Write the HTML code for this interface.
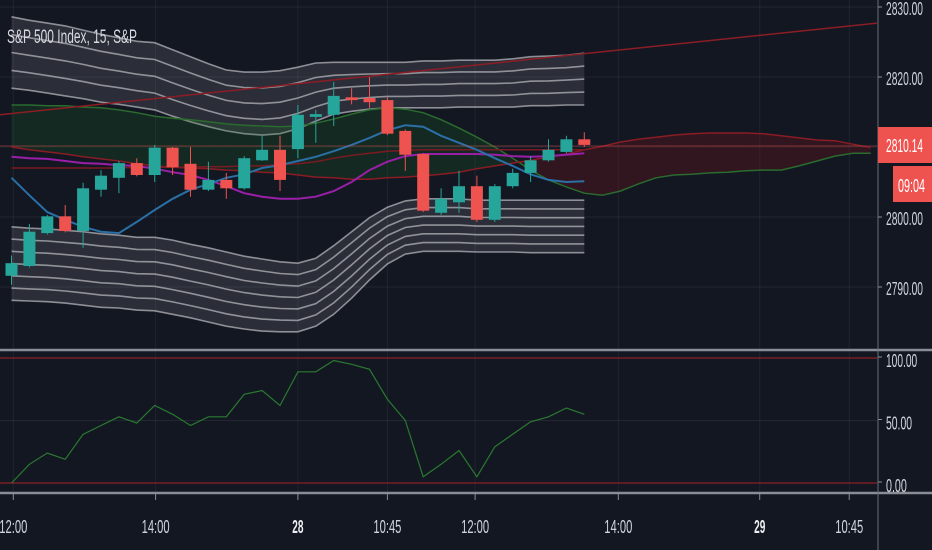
<!DOCTYPE html>
<html><head><meta charset="utf-8">
<style>
html,body{margin:0;padding:0;background:#131722;}
svg{display:block;font-family:"Liberation Sans",sans-serif;}
</style></head>
<body>
<svg id="chart" width="932" height="550" viewBox="0 0 932 550" xmlns="http://www.w3.org/2000/svg">
<rect x="0" y="0" width="932" height="550" fill="#131722"/>
<g id="grid"></g>
<defs><clipPath id="plotclip"><rect x="0" y="0" width="877" height="349"/></clipPath></defs>
<g id="price" clip-path="url(#plotclip)"></g>
<g id="osc"></g>
<g id="axes"></g>
<text x="7" y="43" fill="#d8dae0" font-size="19" textLength="130" lengthAdjust="spacingAndGlyphs">S&amp;P 500 Index, 15, S&amp;P</text>
</svg>
<script>
const opens=[2791.6,2793.0,2797.7,2800.1,2798.0,2803.9,2805.6,2807.7,2806.0,2809.9,2807.6,2803.9,2805.3,2804.1,2808.1,2809.6,2809.7,2814.3,2814.6,2817.1,2817.0,2816.7,2812.3,2809.0,2800.6,2802.1,2804.4,2799.6,2804.4,2806.3,2808.1,2809.3,2811.1];
const highs=[2794.5,2799.0,2800.3,2801.7,2804.9,2806.7,2808.0,2808.4,2810.3,2810.0,2810.0,2807.9,2806.3,2808.7,2811.7,2811.6,2816.0,2815.3,2819.3,2818.4,2820.0,2817.1,2812.5,2809.1,2804.1,2806.6,2805.9,2804.7,2806.9,2808.7,2811.1,2811.6,2812.1];
const lows=[2790.3,2792.8,2797.5,2797.8,2795.6,2802.9,2803.4,2805.8,2805.0,2806.0,2802.9,2803.7,2802.6,2803.9,2808.0,2803.7,2808.4,2810.6,2813.0,2816.1,2815.6,2811.7,2806.6,2800.7,2800.3,2800.6,2799.3,2799.3,2804.1,2805.0,2807.9,2809.1,2810.0];
const closes=[2793.4,2797.9,2800.1,2798.0,2804.1,2805.9,2807.7,2806.0,2809.9,2807.1,2803.9,2805.3,2804.1,2808.4,2809.6,2805.3,2814.6,2814.7,2817.3,2816.7,2816.4,2811.9,2808.9,2800.9,2802.6,2804.4,2799.6,2804.4,2806.3,2808.1,2809.6,2811.1,2810.3];
const blueMA=[2805.6,2803.1,2800.7,2799.6,2798.6,2797.9,2797.7,2799.3,2801.0,2802.6,2803.9,2804.7,2805.6,2806.1,2807.0,2807.4,2808.0,2808.6,2809.4,2810.3,2811.3,2812.4,2813.1,2812.9,2811.6,2810.6,2809.6,2808.4,2807.3,2806.1,2805.3,2805.0,2805.1];
const purpleMA=[2808.6,2808.4,2808.3,2808.0,2807.7,2807.6,2807.4,2807.3,2806.9,2806.4,2806.0,2805.3,2804.4,2803.4,2802.9,2802.6,2802.6,2802.9,2803.7,2805.0,2806.7,2807.9,2808.7,2809.0,2809.0,2809.0,2809.0,2808.9,2808.7,2808.6,2808.7,2808.9,2809.1];
const redMA=[2807.0,2807.0,2807.0,2807.0,2807.0,2807.0,2807.0,2807.1,2807.1,2807.1,2807.1,2807.2,2807.2,2807.3,2807.3,2807.5,2807.6,2807.9,2808.4,2808.8,2809.1,2809.4,2809.5,2809.6,2809.6,2809.6,2809.6,2809.6,2809.6,2809.6,2809.6,2809.6,2809.6];
const cloudA=[2816.0,2816.0,2815.9,2815.9,2815.7,2815.6,2815.3,2814.9,2814.4,2814.1,2813.9,2813.6,2813.3,2813.1,2813.0,2812.9,2813.0,2813.4,2814.0,2814.7,2815.3,2815.6,2815.4,2814.9,2813.9,2812.7,2811.4,2810.0,2808.4,2806.7,2805.3,2804.3,2803.4,2803.1,2803.7,2804.7,2805.6,2806.0,2806.1,2806.3,2806.4,2806.6,2806.7,2806.7,2807.3,2808.0,2808.7,2809.1,2809.1];
const cloudB=[2810.0,2809.6,2809.3,2809.0,2808.6,2808.3,2808.0,2807.6,2807.3,2807.1,2807.0,2806.9,2806.7,2806.6,2806.4,2806.3,2806.0,2805.7,2805.6,2805.4,2805.4,2805.6,2805.7,2805.9,2806.1,2806.4,2806.9,2807.3,2807.7,2808.1,2808.6,2809.0,2809.6,2810.1,2810.7,2811.1,2811.4,2811.7,2811.9,2812.0,2812.0,2812.0,2811.9,2811.6,2811.3,2811.0,2810.9,2810.4,2809.9];
const upperTop=[2828.6,2828.1,2827.7,2827.3,2826.7,2826.1,2825.6,2825.1,2824.9,2823.9,2822.9,2821.9,2821.0,2820.7,2820.7,2820.9,2821.4,2822.0,2822.1,2822.1,2822.1,2822.1,2822.1,2822.3,2822.3,2822.4,2822.4,2822.4,2822.6,2822.9,2823.0,2823.1,2823.4];
const upperBottom=[2818.4,2818.1,2817.7,2817.3,2816.9,2816.4,2816.1,2815.7,2815.3,2814.4,2813.6,2812.9,2812.3,2811.9,2811.7,2811.9,2812.6,2813.7,2814.7,2815.1,2815.4,2815.6,2815.6,2815.6,2815.6,2815.7,2815.7,2815.7,2815.7,2815.9,2815.9,2816.0,2816.0];
const lowerTop=[2798.6,2798.4,2798.3,2798.1,2797.9,2797.6,2797.4,2797.1,2797.1,2796.7,2796.1,2795.6,2795.0,2794.4,2794.0,2793.6,2793.4,2794.1,2795.9,2797.9,2799.9,2801.4,2802.3,2802.6,2802.6,2802.6,2802.4,2802.4,2802.4,2802.4,2802.4,2802.4,2802.4];
const lowerBottom=[2788.1,2788.0,2787.9,2787.7,2787.4,2787.1,2787.0,2786.7,2786.6,2786.1,2785.6,2785.0,2784.4,2784.0,2783.7,2783.6,2783.6,2784.4,2786.1,2788.4,2791.0,2793.3,2794.7,2795.1,2795.1,2795.1,2795.0,2795.0,2795.0,2794.9,2794.9,2794.9,2794.9];
const trendStart=2814.6, trendEnd=2827.7;
const lastPrice=2810.14;
const oscValues=[0,15,24,19,39,46,53,48,62,55,46,53,53,71,74,62,89,89,98,95,91,67,50,5,15,26,5,29,39,49,53,60,55];
const priceTicks=[2830,2820,2810,2800,2790];
const oscTicks=[100,50,0];
const timeLabels=["12:00","14:00","28","10:45","12:00","14:00","29","10:45"];
const timePos=[0.1,8.05,16,21,25.9,33.9,41.8,46.8];
const timeBold=[false,false,true,false,false,false,true,false];

const NS="http://www.w3.org/2000/svg";
function mk(tag,attrs,parent){const e=document.createElementNS(NS,tag);for(const k in attrs)e.setAttribute(k,attrs[k]);parent.appendChild(e);return e;}
const xI=i=>11.5+17.9*i;
const yP=p=>7+(2830-p)*7;
const yS=v=>483-v*1.25;
const grid=document.getElementById('grid'),price=document.getElementById('price'),osc=document.getElementById('osc'),axes=document.getElementById('axes');

priceTicks.forEach(t=>{const l=mk('line',{x1:0,x2:877,y1:yP(t),y2:yP(t),stroke:'rgba(255,255,255,0.06)'},grid);

});
mk('line',{x1:0,x2:877,y1:yS(50),y2:yS(50),stroke:'rgba(255,255,255,0.07)'},grid);
timePos.forEach(p=>{const l=mk('line',{x1:xI(p),x2:xI(p),y1:0,y2:493,stroke:'rgba(255,255,255,0.06)'},grid);

});

function pathOf(arr,fx,fy){return arr.map((v,i)=>(i?'L':'M')+fx(i).toFixed(1)+' '+fy(v).toFixed(1)).join(' ');}
function line(arr,color,w,name){const p=mk('path',{d:pathOf(arr,xI,yP),fill:'none',stroke:color,'stroke-width':w},price);

return p;}

function band(top,bot,n,name){
  let d=pathOf(top,xI,yP);
  for(let i=bot.length-1;i>=0;i--)d+=' L'+xI(i).toFixed(1)+' '+yP(bot[i]).toFixed(1);
  const f=mk('path',{d:d+'Z',fill:'rgba(255,255,255,0.1)'},price);
  
  
  for(let k=0;k<n;k++){const t=k/(n-1);
    const arr=top.map((v,i)=>v+(bot[i]-v)*t);
    line(arr,'rgba(190,190,195,0.7)',1.6,name+'-line');}
}
band(upperTop,upperBottom,5,'upper-band');
band(lowerTop,lowerBottom,7,'lower-band');

for(let i=0;i<cloudA.length-1;i++){
  const up=(cloudA[i]+cloudA[i+1])>(cloudB[i]+cloudB[i+1]);
  const q=mk('path',{d:`M${xI(i)} ${yP(cloudA[i])} L${xI(i+1)} ${yP(cloudA[i+1])} L${xI(i+1)} ${yP(cloudB[i+1])} L${xI(i)} ${yP(cloudB[i])}Z`,fill:up?'rgba(30,110,40,0.22)':'rgba(120,20,30,0.3)',stroke:'none'},price);
  
  
}
line(cloudA,'#2a6b2e',1.5,'cloud-line-a');
line(cloudB,'#8a1c24',1.5,'cloud-line-b');
line(redMA,'#7a1a22',1.5,'red-ma');
const tr=mk('line',{x1:0,x2:877,y1:yP(trendStart),y2:yP(trendEnd),stroke:'#8c1d25','stroke-width':1.5},price);


line(purpleMA,'#9a1fa8',2,'purple-ma');
line(blueMA,'#2a6fa6',2,'blue-ma');
const pl=mk('line',{x1:0,x2:877,y1:yP(lastPrice),y2:yP(lastPrice),stroke:'rgba(239,83,80,0.45)','stroke-width':1},price);



for(let i=0;i<opens.length;i++){
  const up=closes[i]>=opens[i];const c=up?'#26a69a':'#ef5350';
  const g=mk('g',{},price);
  
  
  mk('line',{x1:xI(i),x2:xI(i),y1:yP(highs[i]),y2:yP(lows[i]),stroke:c,'stroke-width':1},g);
  const t=yP(Math.max(opens[i],closes[i])),b=yP(Math.min(opens[i],closes[i]));
  mk('rect',{x:xI(i)-6,y:t,width:12,height:Math.max(1.5,b-t),fill:c},g);
}

oscTicks.filter(v=>v!==50).forEach(v=>{const l=mk('line',{x1:0,x2:877,y1:yS(v),y2:yS(v),stroke:'#7a1f24','stroke-width':1.5},osc);

});
const op=mk('path',{d:pathOf(oscValues,xI,yS),fill:'none',stroke:'#2a7a30','stroke-width':1.2},osc);



[[0,932,350,350],[0,932,493,493],[878,878,0,550]].forEach(s=>{const l=mk('line',{x1:s[0],x2:s[1],y1:s[2],y2:s[3],stroke:(s[0]===878?'#6a6d78':'#8a8d96'),'stroke-width':s[0]===878?1:2.5},axes);

});
priceTicks.forEach(t=>{mk('line',{x1:878,x2:882,y1:yP(t),y2:yP(t),stroke:'#8a8d96'},axes);
const s=t.toFixed(2);
const tx=mk('text',{x:886,y:Math.max(15,yP(t)+8),fill:'#d1d4dc','font-size':18,textLength:37,lengthAdjust:'spacingAndGlyphs'},axes);tx.textContent=s;

});
oscTicks.forEach(t=>{mk('line',{x1:878,x2:882,y1:yS(t)-1,y2:yS(t)-1,stroke:'#8a8d96'},axes);
const s=t.toFixed(2);
const tx=mk('text',{x:886,y:yS(t)+9,fill:'#d1d4dc','font-size':18,textLength:s.length*5.2,lengthAdjust:'spacingAndGlyphs'},axes);tx.textContent=s;

});
timeLabels.forEach((s,k)=>{const x=xI(timePos[k]);
mk('line',{x1:x,x2:x,y1:494,y2:500,stroke:'#8a8d96'},axes);
const tx=mk('text',{x:x,y:533,fill:timeBold[k]?'#eceef2':'#d1d4dc','font-size':18,'font-weight':timeBold[k]?'bold':'normal','text-anchor':'middle',textLength:s.length*5.6,lengthAdjust:'spacingAndGlyphs'},axes);tx.textContent=s;

});

const lb=mk('rect',{x:878,y:127,width:54,height:36,fill:'#ef5350'},axes);


const lt=mk('text',{x:886,y:152,fill:'#ffffff','font-size':18,textLength:37,lengthAdjust:'spacingAndGlyphs'},axes);lt.textContent=lastPrice.toFixed(2);


const cb=mk('rect',{x:893,y:166,width:39,height:36,fill:'#ef5350'},axes);


const ct=mk('text',{x:898,y:192,fill:'#ffffff','font-size':18,textLength:27,lengthAdjust:'spacingAndGlyphs'},axes);ct.textContent='09:04';


</script>
</body></html>
